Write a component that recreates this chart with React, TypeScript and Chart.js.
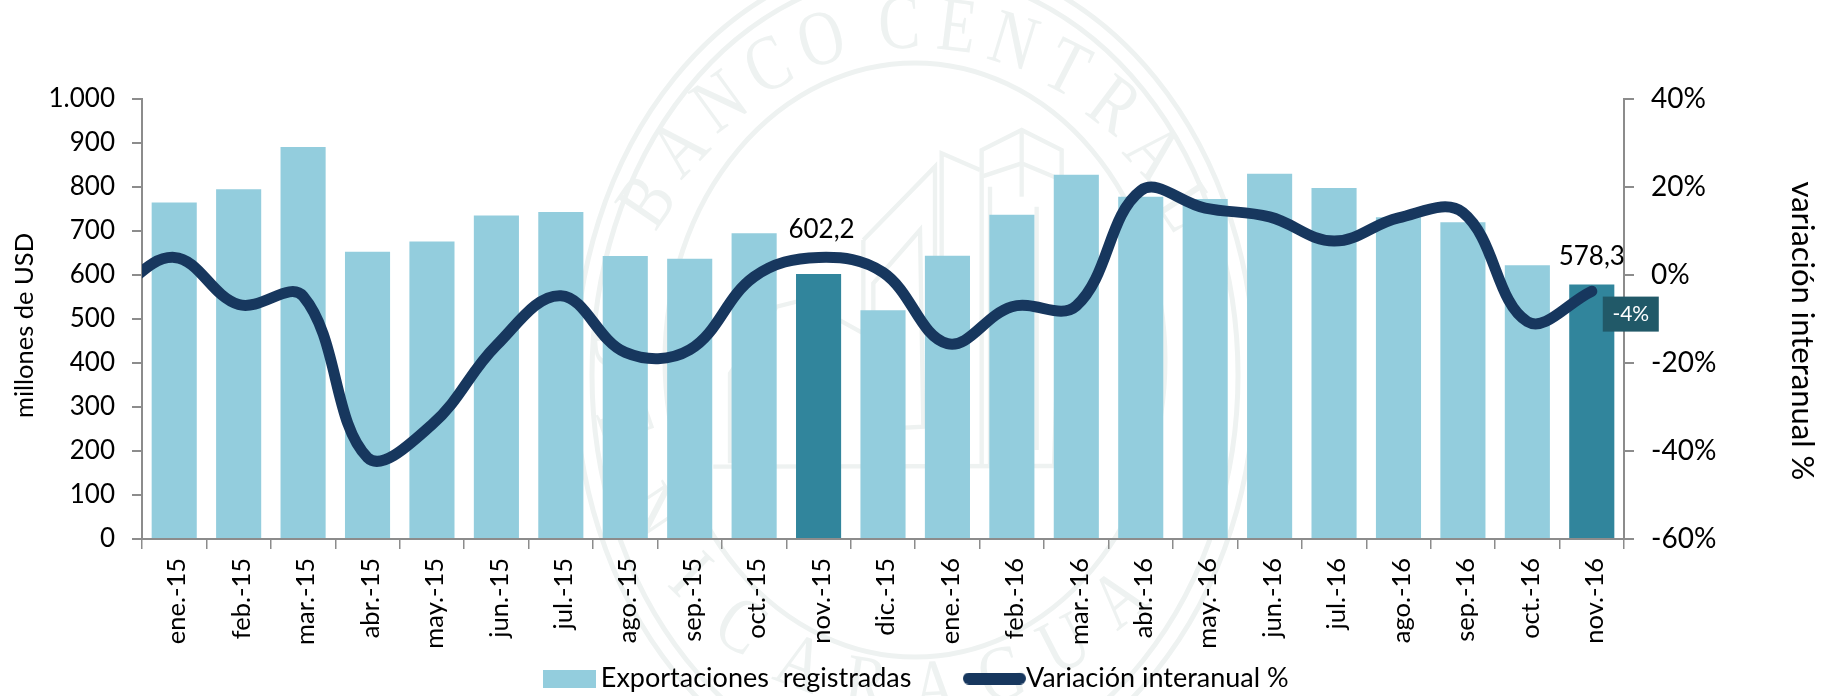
import React, { useEffect, useRef } from "react";
import { Chart, registerables } from "chart.js";

Chart.register(...registerables);

const categories = ["dic.-14", "ene.-15", "feb.-15", "mar.-15", "abr.-15", "may.-15", "jun.-15", "jul.-15", "ago.-15", "sep.-15", "oct.-15", "nov.-15", "dic.-15", "ene.-16", "feb.-16", "mar.-16", "abr.-16", "may.-16", "jun.-16", "jul.-16", "ago.-16", "sep.-16", "oct.-16", "nov.-16"];
const exportaciones = [null, 765, 795, 891, 653, 676, 735, 743, 643, 637, 695, 602.2, 520, 644, 737, 828, 778, 773, 830, 798, 731, 720, 622, 578.3];
const variacion = [-5, 4, -6.7, -4.8, -41.5, -34, -16, -4.7, -17.6, -17, -0.4, 4, 0.6, -15.6, -7.2, -7, 19.2, 15.2, 13.2, 7.7, 13, 14.2, -10.6, -3.7];
const highlighted = ["nov.-15", "nov.-16"];
const valueLabels = [
  { category: "nov.-15", text: "602,2" },
  { category: "nov.-16", text: "578,3" },
];
const lastChangeLabel = "-4%";
const sealTop = "BANCO CENTRAL";
const sealBottom = "DE NICARAGUA";

const FONT = "Lato";
const GREY = "#8c8c8c";

const swatch = (w: number, h: number, color: string, round: boolean) => {
  const c = document.createElement("canvas");
  c.width = w;
  c.height = h;
  const g = c.getContext("2d")!;
  g.fillStyle = color;
  g.beginPath();
  if (round) g.roundRect(0, 0, w, h, h / 2);
  else g.rect(0, 0, w, h);
  g.fill();
  return c;
};

const watermark = {
  id: "watermark",
  beforeDraw(chart: any) {
    const ctx = chart.ctx;
    const cx = 915, cy = 360;
    ctx.save();
    ctx.strokeStyle = "#eef2f1";
    ctx.fillStyle = "#eef2f1";
    ctx.lineWidth = 5;
    for (const [rx, ry, yc] of [[340, 420, 375], [323, 403, 375], [250, 297, 360]]) {
      ctx.beginPath();
      ctx.ellipse(cx, yc, rx, ry, 0, 0, Math.PI * 2);
      ctx.stroke();
    }
    ctx.font = "78px 'Liberation Serif'";
    ctx.textAlign = "center";
    ctx.textBaseline = "middle";
    const put = (t: string, top: boolean, start: number, adv: number, gap: number) => {
      let deg = start;
      for (const ch of t) {
        if (ch === " ") {
          deg += gap;
          continue;
        }
        const a = (deg * Math.PI) / 180;
        const x = cx + 300 * Math.sin(a);
        const y = cy + (top ? -1 : 1) * 333 * Math.cos(a);
        ctx.save();
        ctx.translate(x, y);
        ctx.rotate(top ? a * 0.9 : -a * 0.9);
        ctx.scale(0.8, 1);
        ctx.fillText(ch, 0, 0);
        ctx.restore();
        deg += adv;
      }
    };
    put(sealTop, true, -62, 11, 4);
    put(sealBottom, false, -92, 13.25, 3);
    ctx.translate(570, 0);
    ctx.scale(1 / 3, 1 / 3);
    ctx.lineWidth = 13;
    const shapes = [
      [[1235, 1400], [1235, 450], [1355, 390], [1475, 450], [1475, 700], [1452, 1398]],
      [[1355, 390], [1355, 590]],
      [[1235, 530], [1355, 490], [1475, 540]],
      [[1260, 560], [1260, 1400]],
      [[880, 720], [1095, 500], [1095, 1280]],
      [[1115, 1400], [1115, 460], [1230, 510]],
      [[880, 720], [880, 1290], [1060, 1280], [1050, 690], [910, 850], [910, 1280]],
      [[430, 1400], [1452, 1398]],
      [[1400, 620], [1400, 1350]],
      [[480, 1390], [480, 1120], [620, 920], [700, 900], [880, 1000]],
    ];
    for (const s of shapes) {
      ctx.beginPath();
      s.forEach(([x, y], i) => (i ? ctx.lineTo(x, y) : ctx.moveTo(x, y)));
      ctx.stroke();
    }
    ctx.restore();
  },
};

const annotations = {
  id: "annotations",
  afterLayout(chart: any) {
    const legend = chart.legend;
    if (legend) {
      legend.top = 679 - 14 - legend.options.labels.padding;
      legend.left += 3;
      legend.right += 3;
    }
    chart.scales.x.bottom = chart.height;
  },
  afterDatasetsDraw(chart: any) {
    const ctx = chart.ctx;
    const { x, y, y1 } = chart.scales;
    const shifts = [{ dx: 3, dy: -44 }, { dx: 0, dy: -28 }];
    ctx.save();
    ctx.fillStyle = "#000";
    ctx.font = `26px ${FONT}`;
    ctx.textAlign = "center";
    ctx.textBaseline = "middle";
    valueLabels.forEach((l, i) => {
      const idx = categories.indexOf(l.category);
      ctx.fillText(l.text, x.getPixelForValue(idx) + shifts[i].dx, y.getPixelForValue(exportaciones[idx]!) + shifts[i].dy);
    });
    const last = categories.length - 1;
    const px = x.getPixelForValue(last);
    const py = y1.getPixelForValue(-4);
    ctx.fillStyle = "#215968";
    ctx.fillRect(px + 11, py + 4, 56, 35);
    ctx.fillStyle = "#fff";
    ctx.font = `21px ${FONT}`;
    ctx.fillText(lastChangeLabel, px + 39, py + 22);
    ctx.restore();
  },
};

export default function App() {
  const ref = useRef<HTMLCanvasElement>(null);
  useEffect(() => {
    document.body.style.margin = "0";
    const barSwatch = swatch(53, 18, "#93cddd", false);
    const lineSwatch = swatch(63, 12, "#17375e", true);
    const chart = new Chart(ref.current!, {
      type: "bar",
      data: {
        labels: categories,
        datasets: [
          {
            type: "bar",
            label: "Exportaciones  registradas",
            data: exportaciones as any,
            yAxisID: "y",
            order: 2,
            backgroundColor: categories.map((c) => (highlighted.includes(c) ? "#31859c" : "#93cddd")),
            barPercentage: 0.7,
            categoryPercentage: 1,
          },
          {
            type: "line",
            label: "Variación interanual %",
            data: variacion,
            yAxisID: "y1",
            order: 1,
            borderColor: "#17375e",
            borderWidth: 11,
            borderCapStyle: "round",
            borderJoinStyle: "round",
            tension: 0.38,
            pointRadius: 0,
            clip: { left: 0, top: 12, right: 12, bottom: 12 } as any,
          },
        ],
      },
      options: {
        responsive: false,
        animation: false,
        layout: { padding: { top: 99, left: 9, right: 0, bottom: 0 } },
        plugins: {
          tooltip: { enabled: false },
          legend: {
            position: "bottom",
            labels: {
              usePointStyle: true,
              pointStyleWidth: 36,
              padding: 65,
              color: "#000",
              font: { family: FONT, size: 27 },
              generateLabels: () => [
                { text: "Exportaciones  registradas", pointStyle: barSwatch, datasetIndex: 0, fontColor: "#000", lineWidth: 0 },
                { text: "Variación interanual %", pointStyle: lineSwatch, datasetIndex: 1, fontColor: "#000", lineWidth: 0 },
              ] as any,
            },
          },
        },
        scales: {
          x: {
            min: "ene.-15",
            max: "nov.-16",
            offset: true,
            afterFit: (s: any) => {
              s.height = 157 - (s.chart.legend?.height ?? 0);
            },
            grid: { offset: true, drawOnChartArea: false, color: GREY, lineWidth: 1.5, tickLength: 10 },
            border: { color: GREY, width: 2 },
            ticks: {
              autoSkip: false,
              minRotation: 90,
              maxRotation: 90,
              padding: 9,
              labelOffset: 3,
              color: "#000",
              font: { family: FONT, size: 25.5 },
            },
          },
          y: {
            position: "left",
            min: 0,
            max: 1000,
            afterFit: (s: any) => {
              s.width = 133;
            },
            grid: { drawOnChartArea: false, color: GREY, lineWidth: 2, tickLength: 10 },
            border: { color: GREY, width: 2 },
            title: { display: true, text: "millones de USD  ", color: "#000", font: { family: FONT, size: 25.5 }, padding: 0 },
            ticks: {
              stepSize: 100,
              padding: 17,
              color: "#000",
              font: { family: FONT, size: 26 },
              callback: (v: any) => (v === 1000 ? "1.000" : String(v)),
            },
          },
          y1: {
            position: "right",
            min: -60,
            max: 40,
            afterFit: (s: any) => {
              s.width = 201;
            },
            grid: { drawOnChartArea: false, color: GREY, lineWidth: 2, tickLength: 10 },
            border: { color: GREY, width: 2 },
            title: { display: true, text: "   variación interanual %", color: "#000", font: { family: FONT, size: 31 }, padding: 4 },
            ticks: {
              stepSize: 20,
              padding: 17,
              color: "#000",
              font: { family: FONT, size: 28 },
              callback: (v: any) => `${v}%`,
            },
          },
        },
      },
      plugins: [watermark, annotations],
    } as any);
    return () => chart.destroy();
  }, []);
  return <canvas ref={ref} width={1825} height={696} style={{ display: "block" }} />;
}
